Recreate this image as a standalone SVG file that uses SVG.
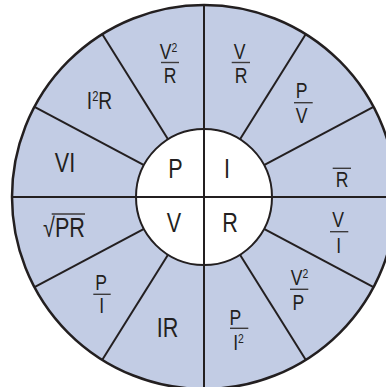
<svg xmlns="http://www.w3.org/2000/svg" width="386" height="387" viewBox="0 0 386 387">
<style>
.t{font-family:"Liberation Sans",Arial,sans-serif;fill:#231f20;text-anchor:middle}
.big{font-size:27px}
.fr{font-size:22px}
.sup{font-size:13px}
.bar{stroke:#3c3a3b;stroke-width:1.4}
.ln{stroke:#231f20;stroke-width:2;fill:none}
</style>
<rect width="386" height="387" fill="#fff"/>
<circle cx="204" cy="197" r="192" fill="#c2cce4" stroke="#231f20" stroke-width="2.5"/>
<circle cx="204" cy="197" r="68" fill="#fff"/>
<g id="connectors">
<line class="ln" x1="11" y1="197" x2="397" y2="197"/>
<line class="ln" x1="204" y1="4" x2="204" y2="390"/>
<line class="ln" x1="144" y1="165.1" x2="34.5" y2="106.9"/>
<line class="ln" x1="168" y1="139.3" x2="102.3" y2="34.2"/>
<line class="ln" x1="240" y1="139.3" x2="305.7" y2="34.2"/>
<line class="ln" x1="264" y1="165.1" x2="373.5" y2="106.9"/>
<line class="ln" x1="264" y1="228.9" x2="373.5" y2="287.1"/>
<line class="ln" x1="240" y1="254.7" x2="305.7" y2="359.8"/>
<line class="ln" x1="168" y1="254.7" x2="102.3" y2="359.8"/>
<line class="ln" x1="144" y1="228.9" x2="34.5" y2="287.1"/>
<circle class="ln" cx="204" cy="197" r="68"/>
</g>
<g id="center-P"><text class="t big" transform="translate(175.5,178) scale(0.8,1)">P</text></g>
<g id="center-I"><text class="t big" transform="translate(227,178) scale(0.8,1)">I</text></g>
<g id="center-V"><text class="t big" transform="translate(174,232) scale(0.8,1)">V</text></g>
<g id="center-R"><text class="t big" transform="translate(230,232) scale(0.8,1)">R</text></g>
<g id="p-vi"><text class="t big" transform="translate(65,172) scale(0.8,1)">VI</text></g>
<g id="p-i2r"><text class="t" style="font-size:24px" transform="translate(99.5,109) scale(0.8,1)">I<tspan class="sup" style="font-size:14px" dy="-8">2</tspan><tspan dy="8">R</tspan></text></g>
<g id="p-v2r"><text class="t fr" transform="translate(168.5,59) scale(0.8,1)">V<tspan class="sup" dy="-7">2</tspan></text><line class="bar" x1="161" y1="62.5" x2="179" y2="62.5"/><text class="t fr" transform="translate(170,83) scale(0.8,1)">R</text></g>
<g id="i-vr"><text class="t fr" transform="translate(239.7,59) scale(0.8,1)">V</text><line class="bar" x1="231.7" y1="62.5" x2="250" y2="62.5"/><text class="t fr" transform="translate(241,83) scale(0.8,1)">R</text></g>
<g id="i-pv"><text class="t fr" transform="translate(301.7,98.3) scale(0.8,1)">P</text><line class="bar" x1="294" y1="102.7" x2="312.7" y2="102.7"/><text class="t fr" transform="translate(301.7,123.3) scale(0.8,1)">V</text></g>
<g id="i-r"><line class="bar" x1="332.7" y1="168.3" x2="351" y2="168.3"/><text class="t fr" transform="translate(342,186.7) scale(0.8,1)">R</text></g>
<g id="r-vi"><text class="t fr" transform="translate(338,226.7) scale(0.8,1)">V</text><line class="bar" x1="330" y1="231.7" x2="348.3" y2="231.7"/><text class="t fr" transform="translate(338.7,252.7) scale(0.8,1)">I</text></g>
<g id="r-v2p"><text class="t fr" transform="translate(299.5,285) scale(0.8,1)">V<tspan class="sup" dy="-7">2</tspan></text><line class="bar" x1="290" y1="289.3" x2="308.3" y2="289.3"/><text class="t fr" transform="translate(298.3,310) scale(0.8,1)">P</text></g>
<g id="r-pi2"><text class="t fr" transform="translate(235.3,325) scale(0.8,1)">P</text><line class="bar" x1="230" y1="328.3" x2="248.3" y2="328.3"/><text class="t fr" transform="translate(238.5,350) scale(0.8,1)">I<tspan class="sup" dy="-7">2</tspan></text></g>
<g id="v-ir"><text class="t big" transform="translate(167.5,337) scale(0.8,1)">IR</text></g>
<g id="v-pi"><text class="t fr" transform="translate(101,290) scale(0.8,1)">P</text><line class="bar" x1="93.3" y1="294.3" x2="110.7" y2="294.3"/><text class="t fr" transform="translate(101.7,313.3) scale(0.8,1)">I</text></g>
<g id="v-sqrtpr"><text class="t big" transform="translate(64,236.7) scale(0.8,1)">√PR</text><line class="bar" x1="51.7" y1="214" x2="85" y2="214"/></g>
</svg>
